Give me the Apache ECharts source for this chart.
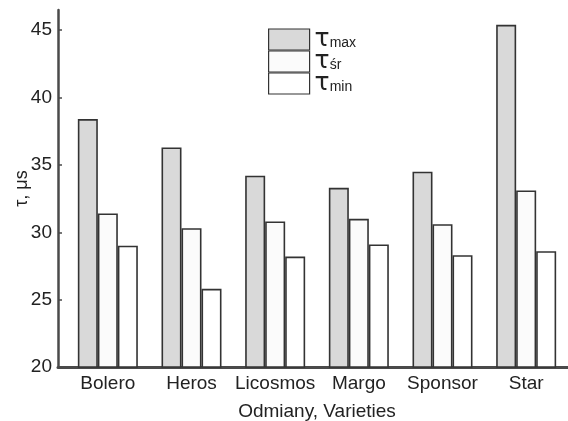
<!DOCTYPE html>
<html>
<head>
<meta charset="utf-8">
<script src="https://cdn.jsdelivr.net/npm/echarts@6/dist/echarts.min.js"></script>
<style>html,body{margin:0;padding:0;background:#fff}#c{width:568px;height:421px}</style>
</head>
<body>
<div id="c"></div>
<script>
const categories = ['Bolero', 'Heros', 'Licosmos', 'Margo', 'Sponsor', 'Star'];
const tauMax = [38.4, 36.3, 34.2, 33.3, 34.5, 45.4];
const tauSr  = [31.4, 30.3, 30.8, 31.0, 30.6, 33.1];
const tauMin = [29.0, 25.8, 28.2, 29.1, 28.3, 28.6];
const yTicks = [20, 25, 30, 35, 40, 45];
const seriesNames = ['max', 'śr', 'min'];

const chart = echarts.init(document.getElementById('c'), null, {renderer: 'canvas'});
const FONT = 'Liberation Sans, Arial, sans-serif';
const colors = ['#d9d9d9', '#fbfbfb', '#ffffff'];
const datasets = [tauMax, tauSr, tauMin];
const AX = '#4a4a4a';

chart.setOption({
  animation: false,
  backgroundColor: '#fff',
  textStyle: {fontFamily: FONT, color: '#222'},
  grid: [
    {left: 58, right: 0, top: 10, bottom: 54, outerBoundsMode: 'none', containLabel: false},
    {left: 66, right: 0, top: 10, bottom: 54, outerBoundsMode: 'none', containLabel: false}
  ],
  legend: {
    orient: 'vertical', left: 263, top: 22,
    itemWidth: 41, itemHeight: 21, itemGap: -3,
    icon: 'rect',
    data: seriesNames,
    itemStyle: {borderColor: '#333', borderWidth: 1.2},
    formatter: function (n) { return '{t|τ}{s|' + n + '}'; },
    textStyle: {
      lineHeight: 21,
      rich: {
        t: {fontSize: 25, lineHeight: 21, fontFamily: 'DejaVu Sans, sans-serif', color: '#222', verticalAlign: 'middle'},
        s: {fontSize: 14, lineHeight: 13, fontFamily: FONT, color: '#222', verticalAlign: 'bottom'}
      }
    }
  },
  xAxis: [
    {
      type: 'category', gridIndex: 0, data: [''],
      axisLine: {lineStyle: {color: AX, width: 3}},
      axisTick: {show: false}, axisLabel: {show: false}
    },
    {
      type: 'category', gridIndex: 1,
      data: categories,
      name: 'Odmiany, Varieties',
      nameLocation: 'middle', nameGap: 35,
      nameTextStyle: {fontSize: 19, color: '#222', fontFamily: FONT},
      axisLine: {show: false},
      axisTick: {show: false},
      axisLabel: {fontSize: 19, color: '#222', margin: 7, interval: 0, fontFamily: FONT}
    }
  ],
  yAxis: [
    {
      type: 'value', gridIndex: 0, min: 20, max: 46.5, interval: 5,
      name: 'τ, μs', nameLocation: 'middle', nameGap: 27, nameMoveOverlap: false,
      nameTextStyle: {fontSize: 18, color: '#222', fontFamily: FONT},
      axisLine: {show: true, lineStyle: {color: AX, width: 2.5}},
      axisTick: {show: true, inside: true, length: 4, customValues: yTicks, lineStyle: {color: AX, width: 1.5}},
      axisLabel: {fontSize: 19, color: '#222', margin: 6, customValues: yTicks, fontFamily: FONT},
      splitLine: {show: false}
    },
    {
      type: 'value', gridIndex: 1, min: 20, max: 46.5, interval: 5,
      show: false, splitLine: {show: false}
    }
  ],
  series: seriesNames.map(function (n, i) {
    return {
      name: n, type: 'bar', data: datasets[i],
      xAxisIndex: 1, yAxisIndex: 1,
      barWidth: 20, barGap: '0%',
      itemStyle: {color: colors[i], borderColor: '#333', borderWidth: 1.6}
    };
  })
});
</script>
</body>
</html>
